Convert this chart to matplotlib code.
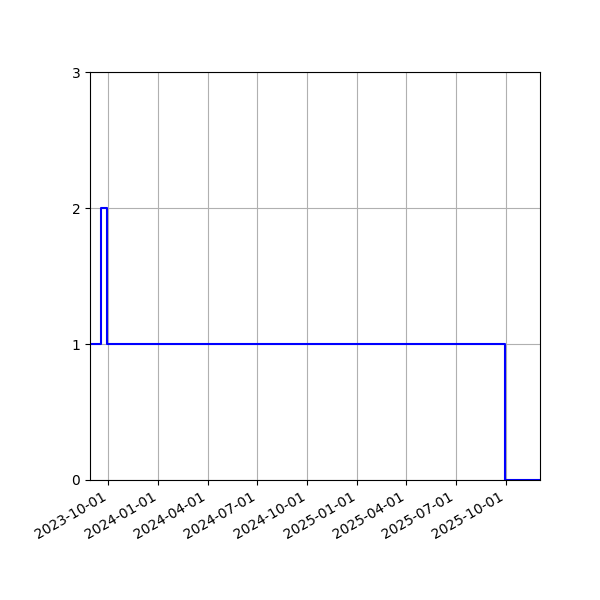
import matplotlib
matplotlib.use('Agg')
import matplotlib.pyplot as plt
import matplotlib.dates as mdates
import numpy as np

# step data
dates = np.array(['2023-08-28', '2023-09-18', '2023-09-28', '2025-09-29', '2025-12-03'],
                 dtype='datetime64[D]')
counts = [1, 2, 1, 0, 0]

fig, ax = plt.subplots(figsize=(6, 6), dpi=100)
ax.step(dates, counts, where='post', color='blue')

ax.set_xlim(dates[0], dates[-1])
ax.set_ylim(0, 3)
ax.set_yticks([0, 1, 2, 3])
ax.xaxis.set_major_locator(mdates.MonthLocator(bymonth=(1, 4, 7, 10)))
ax.xaxis.set_major_formatter(mdates.DateFormatter('%Y-%m-%d'))
ax.grid(True)
fig.autofmt_xdate()
fig.subplots_adjust(left=0.15, right=0.9, top=0.88, bottom=0.2)

fig.savefig('out.png', dpi=100)
